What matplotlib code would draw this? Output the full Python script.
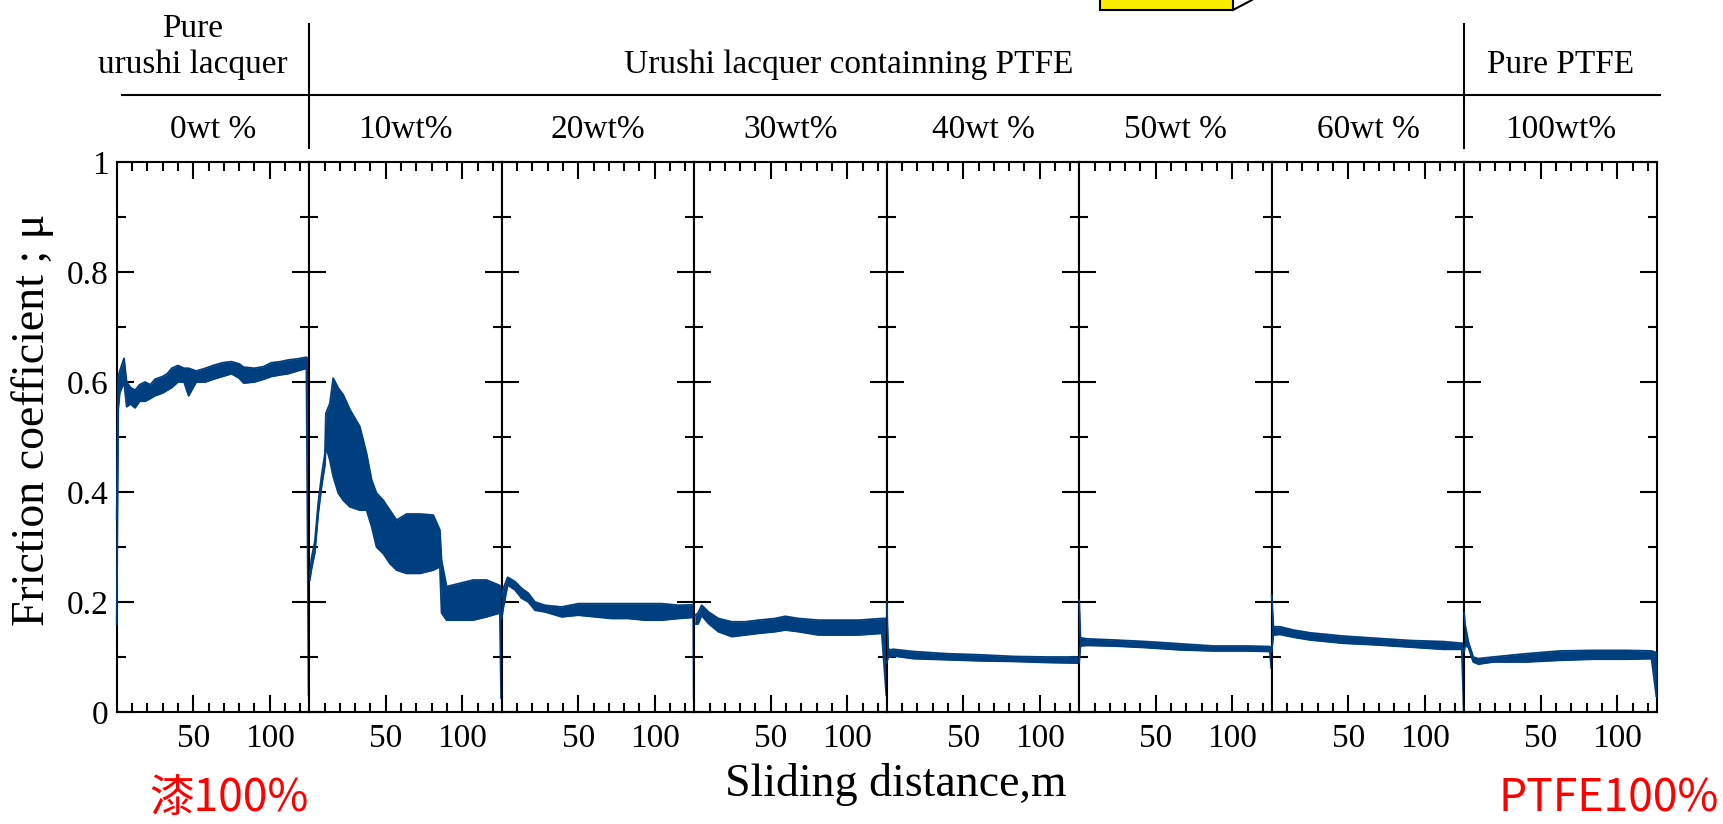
import matplotlib
matplotlib.use("Agg")
import matplotlib.pyplot as plt
from matplotlib.lines import Line2D
from matplotlib.patches import Rectangle
import numpy as np

plt.rcParams['font.family'] = ['Liberation Serif', 'DejaVu Serif']

# ---- data (friction coefficient vs sliding distance, m) ----
wt_labels = ['0wt %', '10wt%', '20wt%', '30wt%', '40wt %', '50wt %', '60wt %', '100wt%']
group_labels = ['Pure\nurushi lacquer', 'Urushi lacquer containning PTFE', 'Pure PTFE']

x_0 = [0, 1, 2, 4.8, 6.5, 9, 12, 15, 18.5, 22, 25, 30, 33, 36, 40, 44, 47, 52, 58, 63,
       69, 75, 80, 83, 90, 96, 101, 107, 112, 118, 124, 125.4]
hi_0 = [0.35, 0.61, 0.62, 0.643, 0.60, 0.59, 0.585, 0.595, 0.60, 0.595, 0.605, 0.61, 0.615,
        0.625, 0.63, 0.625, 0.625, 0.62, 0.625, 0.63, 0.635, 0.637, 0.633, 0.627, 0.625,
        0.628, 0.635, 0.637, 0.64, 0.642, 0.645, 0.64]
lo_0 = [0.16, 0.55, 0.58, 0.60, 0.555, 0.56, 0.553, 0.565, 0.565, 0.57, 0.575, 0.58, 0.585,
        0.59, 0.60, 0.60, 0.575, 0.60, 0.60, 0.605, 0.61, 0.615, 0.607, 0.598, 0.60, 0.605,
        0.61, 0.613, 0.615, 0.62, 0.625, 0.03]

x_10 = [0.4, 1.5, 3.7, 5.9, 8.1, 10.3, 10.9, 13.5, 15.7, 19, 22.2, 26.6, 33.1, 37.5, 40.8,
        44, 48.4, 52.7, 57.1, 63.6, 72.4, 81.1, 85.4, 86.5, 89.8, 98.5, 107.2, 115.9, 124.6, 125.4]
hi_10 = [0.25, 0.28, 0.31, 0.38, 0.43, 0.47, 0.543, 0.561, 0.607, 0.589, 0.577, 0.55, 0.519,
         0.47, 0.422, 0.398, 0.385, 0.367, 0.349, 0.36, 0.36, 0.358, 0.331, 0.276, 0.228,
         0.234, 0.24, 0.24, 0.23, 0.20]
lo_10 = [0.24, 0.26, 0.29, 0.36, 0.41, 0.45, 0.483, 0.458, 0.428, 0.398, 0.385, 0.373, 0.367,
         0.367, 0.337, 0.30, 0.288, 0.27, 0.258, 0.252, 0.252, 0.258, 0.264, 0.18, 0.167,
         0.167, 0.167, 0.173, 0.18, 0.025]

x_20 = [0, 1.1, 3.9, 8.7, 13, 17.4, 21.8, 28.3, 39.2, 50.1, 61, 71.9, 82.8, 93.7, 104.6,
        115.4, 125.2, 125.5]
hi_20 = [0.21, 0.225, 0.245, 0.237, 0.225, 0.216, 0.20, 0.194, 0.191, 0.197, 0.197, 0.197,
         0.197, 0.197, 0.197, 0.194, 0.195, 0.195]
lo_20 = [0.17, 0.19, 0.231, 0.222, 0.207, 0.20, 0.185, 0.182, 0.173, 0.176, 0.173, 0.17,
         0.17, 0.167, 0.167, 0.17, 0.172, 0.025]

x_30 = [0.4, 2.5, 4.9, 6.5, 9.3, 15.8, 24.6, 33.3, 42, 52.9, 59.5, 68.2, 81.2, 96.5, 107.4,
        122.6, 125.5]
hi_30 = [0.175, 0.18, 0.194, 0.19, 0.182, 0.17, 0.164, 0.164, 0.167, 0.170, 0.174, 0.170,
         0.167, 0.167, 0.167, 0.170, 0.170]
lo_30 = [0.16, 0.16, 0.176, 0.17, 0.161, 0.146, 0.137, 0.140, 0.143, 0.146, 0.149, 0.146,
         0.140, 0.140, 0.140, 0.143, 0.031]

x_40 = [0, 1, 2.2, 4.3, 17.4, 39.2, 61, 82.8, 104.6, 124.2, 125.5]
hi_40 = [0.20, 0.115, 0.113, 0.114, 0.110, 0.106, 0.104, 0.101, 0.100, 0.100, 0.098]
lo_40 = [0.09, 0.10, 0.10, 0.102, 0.097, 0.095, 0.093, 0.092, 0.090, 0.089, 0.089]

x_50 = [0, 0.8, 4.9, 22.3, 44, 65.8, 87.6, 109.4, 124.6, 125.5]
hi_50 = [0.203, 0.135, 0.133, 0.131, 0.128, 0.124, 0.120, 0.120, 0.119, 0.115]
lo_50 = [0.09, 0.12, 0.121, 0.120, 0.117, 0.113, 0.111, 0.111, 0.110, 0.08]

x_60 = [0, 1.1, 5.4, 14.1, 25, 46.8, 68.6, 90.4, 112.2, 124.2, 125.5]
hi_60 = [0.213, 0.155, 0.155, 0.149, 0.144, 0.138, 0.134, 0.130, 0.128, 0.125, 0.125]
lo_60 = [0.11, 0.140, 0.141, 0.136, 0.131, 0.125, 0.122, 0.118, 0.114, 0.114, 0.002]

x_100 = [0, 0.5, 2.7, 5.9, 9.2, 18.9, 40.7, 62.5, 84.3, 106.1, 122.4, 125.6]
hi_100 = [0.18, 0.16, 0.128, 0.100, 0.097, 0.100, 0.106, 0.111, 0.112, 0.112, 0.111, 0.108]
lo_100 = [0.11, 0.12, 0.118, 0.091, 0.087, 0.091, 0.091, 0.094, 0.096, 0.096, 0.097, 0.028]

panels = [(x_0, lo_0, hi_0), (x_10, lo_10, hi_10), (x_20, lo_20, hi_20), (x_30, lo_30, hi_30),
          (x_40, lo_40, hi_40), (x_50, lo_50, hi_50), (x_60, lo_60, hi_60),
          (x_100, lo_100, hi_100)]

# ---- layout in pixels of the 1723x824 canvas ----
W, H = 1723, 824
def fx(px):
    return px / W
def fy(py):
    return 1 - py / H

left, right, top, bottom = 116.7, 1656.7, 162, 712
pw = (right - left) / 8
blue = '#003f7f'

fig = plt.figure(figsize=(W / 100, H / 100), dpi=100)

for i, (xs, lo, hi) in enumerate(panels):
    ax = fig.add_axes([fx(left + i * pw), fy(bottom), pw / W, (bottom - top) / H])
    ax.fill_between(xs, lo, hi, color=blue, lw=0, zorder=3, clip_on=False)
    ax.plot(xs, hi, color=blue, lw=1.3, zorder=3, clip_on=False)
    ax.plot(xs, lo, color=blue, lw=1.3, zorder=3, clip_on=False)
    ax.set_xlim(0, 125.8)
    ax.set_ylim(0, 1)
    ax.set_xticks([50, 100])
    ax.set_xticks([10, 20, 30, 40, 60, 70, 80, 90, 110, 120], minor=True)
    ax.set_yticks([0, 0.2, 0.4, 0.6, 0.8, 1.0])
    ax.set_yticks([0.1, 0.3, 0.5, 0.7, 0.9], minor=True)
    ax.tick_params(which='both', direction='in', top=True, right=True, width=1.5,
                   labelsize=24)
    ax.tick_params(which='major', length=12.5)
    ax.tick_params(which='minor', length=6.2)
    ax.tick_params(axis='x', pad=8)
    ax.tick_params(axis='y', pad=6)
    if i == 0:
        ax.set_yticklabels(['0', '0.2', '0.4', '0.6', '0.8', '1'])
    else:
        ax.set_yticklabels([])
    for s in ax.spines.values():
        s.set_linewidth(1.5)

# header table
lw_h = 1.5
fig.add_artist(Line2D([fx(122), fx(1660)], [fy(95), fy(95)], color='black', lw=lw_h))
for xb in (left + pw, left + 7 * pw):
    fig.add_artist(Line2D([fx(xb), fx(xb)], [fy(24), fy(148)], color='black', lw=lw_h))

for i, lab in enumerate(wt_labels):
    fig.text(fx(left + (i + 0.5) * pw), fy(138), lab, ha='center', va='baseline', fontsize=24)

l1, l2 = group_labels[0].split('\n')
fig.text(fx(193), fy(36.7), l1, ha='center', va='baseline', fontsize=24)
fig.text(fx(193), fy(73.3), l2, ha='center', va='baseline', fontsize=24)
fig.text(fx(849), fy(73.3), group_labels[1], ha='center', va='baseline', fontsize=24)
fig.text(fx(1561), fy(73.3), group_labels[2], ha='center', va='baseline', fontsize=24)

# yellow box peeking in at the top
fig.add_artist(Rectangle((fx(1100), fy(10)), (1233 - 1100) / W, 40 / H,
                         transform=fig.transFigure, facecolor='#f9ed00',
                         edgecolor='black', lw=1.5))
fig.add_artist(Line2D([fx(1233), fx(1252)], [fy(10), fy(0)], color='black', lw=1.5))

# axis titles
fig.text(fx(896), fy(784), 'Sliding distance,m', ha='center', va='center', fontsize=33)
fig.text(fx(33), fy(420), 'Friction coefficient ; μ', ha='center', va='center',
         rotation=90, fontsize=33)

# red notes
cjk = ['Noto Sans CJK JP', 'DejaVu Sans']
fig.text(fx(149), fy(811), '漆100%', color='red', fontsize=32, family=cjk,
         ha='left', va='baseline')
fig.text(fx(1719), fy(811), 'PTFE100%', color='red', fontsize=32, family=cjk,
         ha='right', va='baseline')

fig.savefig('out.png', dpi=100)
